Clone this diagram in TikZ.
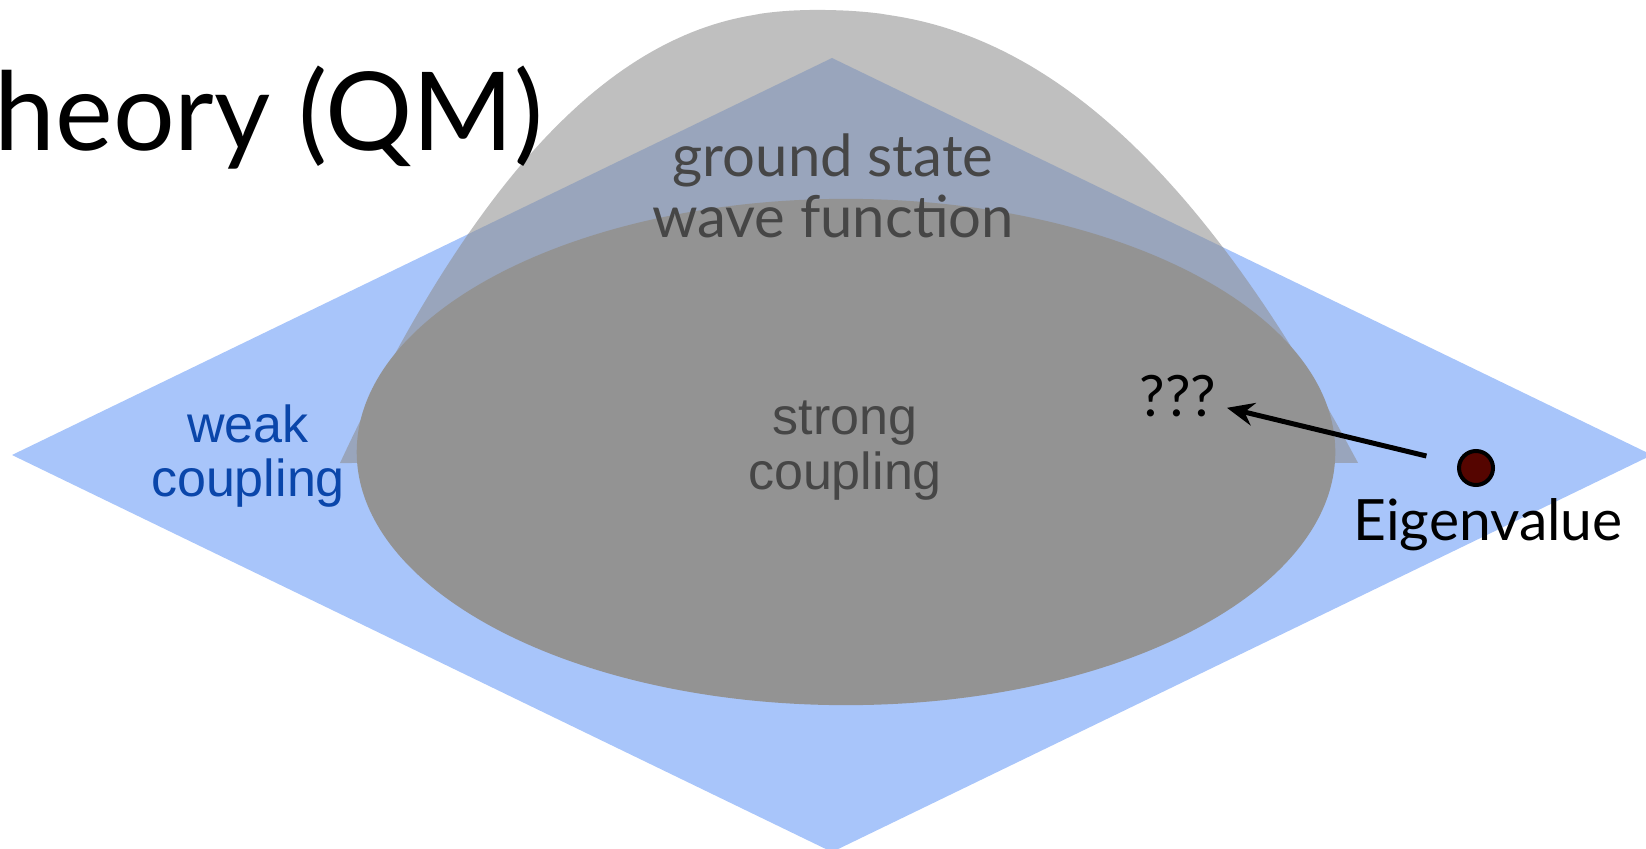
\documentclass[tikz,border=0pt]{standalone}
\usepackage{fontspec}
\setmainfont{Lato}
\newfontfamily\arialfont{Liberation Sans}
\usetikzlibrary{arrows.meta}
\definecolor{planeblue}{HTML}{A8C5FA}
\definecolor{domegrey}{HTML}{8E8E8E}
\definecolor{blobgrey}{HTML}{939393}
\definecolor{labelgrey}{HTML}{464646}
\definecolor{weakblue}{HTML}{0A46AA}
\definecolor{dotred}{HTML}{550500}
\tikzset{
    plane/.style={fill=planeblue, draw=none},
    dome/.style={fill=domegrey, fill opacity=0.57, draw=none},
    blob/.style={fill=blobgrey, draw=none},
    title/.style={font=\fontsize{31}{37}\selectfont, inner sep=0pt, anchor=base west},
    wave label/.style={font=\fontsize{16.5}{17.4}\selectfont, text=labelgrey, align=center, inner sep=0pt},
    coupling label/.style={font=\arialfont\fontsize{14.8}{15.6}\selectfont, align=center, inner sep=0pt},
    black label/.style={font=\fontsize{16.2}{19}\selectfont, text=black},
    eigendot/.style={circle, fill=dotred, draw=black, line width=0.04cm,
        minimum size=0.34cm, inner sep=0pt},
    arr/.style={-{Stealth[length=0.27cm, width=0.23cm, inset=0.09cm]}, line width=0.05cm, color=black}
}
\begin{document}
\begin{tikzpicture}[x=0.01cm, y=-0.01cm]

    \useasboundingbox (0,0) rectangle (1646,849);
    \clip (0,0) rectangle (1646,849);

    % --- coupling plane ---
    \fill[plane] (12,455) -- (832,58) -- (1652,455) -- (832,852) -- cycle;

    % --- wave function dome and strong coupling region ---
    \fill[dome] plot[domain=340:816.5, samples=70] (\x, {463-453*(1-((817-\x)/477)^2.25)})
        -- plot[domain=817.5:1358, samples=70] (\x, {463-453*(1-((\x-817)/541)^2.25)})
        -- cycle;
    \fill[blob] (846,452) ellipse [x radius=4.89cm, y radius=2.53cm];

    % --- labels ---
    \node[title] (title) at (-6,151) {heory (QM)};
    \node[wave label] (wave) at (833,186) {ground state\\wave function};
    \node[coupling label, text=weakblue] (weak) at (248,456) {weak\\coupling};
    \node[coupling label, text=labelgrey] (strong) at (845,451) {strong\\coupling};

    % --- eigenvalue ---
    \node[eigendot] (eig) at (1476,468) {};
    \node[black label, anchor=base, inner sep=0pt] (eigname) at (1488,540) {Eigenvalue};
    \node[black label, inner sep=0.1cm] (qqq) at (1178,396) {???};

    \draw[arr, shorten <=0.32cm] (eig) -- (qqq);

\end{tikzpicture}
\end{document}
